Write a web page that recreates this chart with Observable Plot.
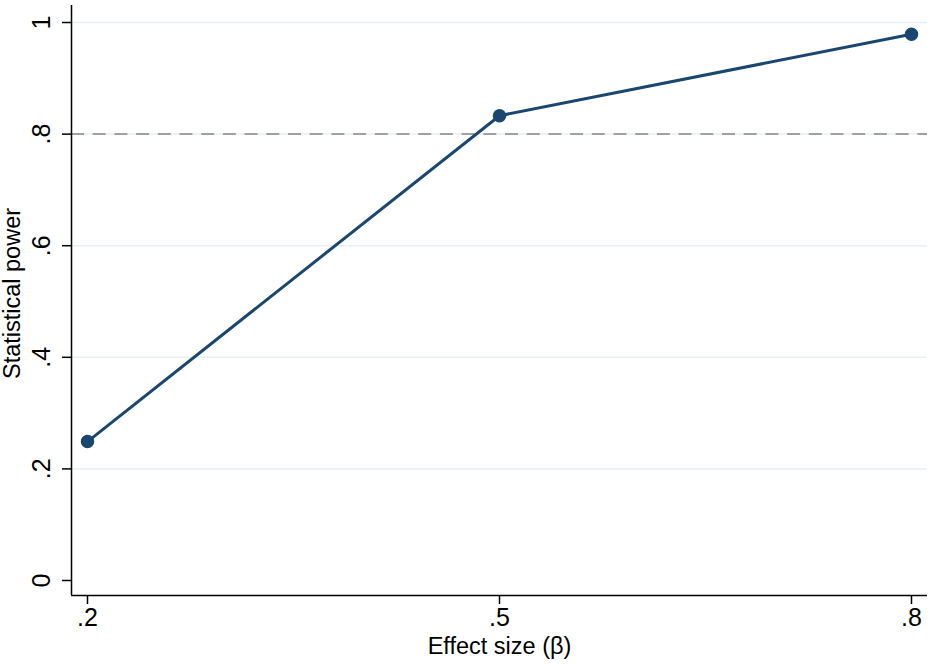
<!DOCTYPE html>
<html>
<head>
<meta charset="utf-8">
<script src="https://cdn.jsdelivr.net/npm/d3@7"></script>
<script src="https://cdn.jsdelivr.net/npm/@observablehq/plot@0.6"></script>
<style>
  html, body { margin: 0; padding: 0; background: #fff; }
  #chart svg { display: block; }
</style>
</head>
<body>
<div id="chart"></div>
<script>
const effectSizes = [0.2, 0.5, 0.8];
const powerValues = [0.249, 0.833, 0.979];
const yTicks = [0, 0.2, 0.4, 0.6, 0.8, 1];
const xTicks = [0.2, 0.5, 0.8];
const gridTicks = [0.2, 0.4, 0.6, 0.8, 1];
const referenceLine = [0.8];
const xTitle = "Effect size (β)";
const yTitle = "Statistical power";

const data = effectSizes.map((x, i) => ({x, y: powerValues[i]}));
const fmt = v => v === 0 ? "0" : v === 1 ? "1" : String(v).replace(/^0/, "");

const xDomain = [0.18835, 0.81165];
const yDomain = [-0.0269, 1.0305];
const font = "Liberation Sans, Arial, Helvetica, sans-serif";

const chart = Plot.plot({
  width: 945,
  height: 667,
  marginLeft: 71,
  marginRight: 18,
  marginTop: 5,
  marginBottom: 72,
  style: {fontFamily: font, background: "#fff"},
  x: {domain: xDomain, axis: null},
  y: {domain: yDomain, axis: null},
  marks: [
    Plot.ruleY(gridTicks, {stroke: "#e6eff1", strokeWidth: 1.5}),
    Plot.ruleY(referenceLine, {stroke: "#a0a0a0", strokeWidth: 2, strokeDasharray: "13,8.7"}),
    Plot.ruleX([xDomain[0]], {stroke: "#000", strokeWidth: 1.5}),
    Plot.ruleY([yDomain[0]], {stroke: "#000", strokeWidth: 1.5}),
    Plot.axisY({ticks: yTicks, tickSize: 9, tickFormat: () => "", label: null, stroke: "#000", strokeWidth: 1.5}),
    Plot.axisX({ticks: xTicks, tickSize: 9, tickFormat: () => "", label: null, stroke: "#000", strokeWidth: 1.5}),
    Plot.text(yTicks, {y: d => d, text: fmt, frameAnchor: "left", textAnchor: "middle", dx: -30, rotate: -90, fontSize: 25, fill: "#000"}),
    Plot.text(xTicks, {x: d => d, text: fmt, frameAnchor: "bottom", dy: 30, fontSize: 25, fill: "#000"}),
    Plot.text([xTitle], {frameAnchor: "bottom", dy: 58, fontSize: 23.5, fill: "#000"}),
    Plot.text([yTitle], {frameAnchor: "left", textAnchor: "middle", dx: -59, dy: -7, rotate: -90, fontSize: 23.5, fill: "#000"}),
    Plot.line(data, {x: "x", y: "y", stroke: "#1a476f", strokeWidth: 3}),
    Plot.dot(data, {x: "x", y: "y", r: 6, fill: "#1a476f", stroke: "#1a476f"})
  ]
});
document.getElementById("chart").append(chart);
</script>
</body>
</html>
